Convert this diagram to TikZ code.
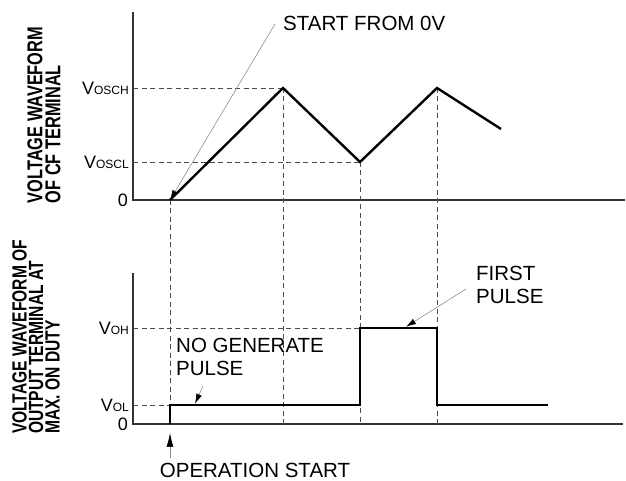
\documentclass[tikz,border=0pt]{standalone}
\usepackage{fontspec}
\setmainfont{Liberation Sans}
\newfontfamily\narrowfont[FakeStretch=0.76]{Liberation Sans}
\usetikzlibrary{arrows.meta}

\tikzset{
  wave/.style={line width=2.4pt, line join=miter},
  axis/.style={line width=1.1pt, black!80},
  guide/.style={black!70, line width=0.8pt, dash pattern=on 5pt off 3.5pt},
  leader/.style={black!45, line width=0.6pt, -{Latex[color=black, length=10pt, width=6pt]}},
  lbl/.style={font=\fontsize{20.5}{23}\selectfont, align=left, inner sep=0pt},
  vlbl/.style={font=\fontsize{18}{18}\selectfont, anchor=east, inner sep=0pt},
  ylbl/.style={rotate=90, align=left, inner sep=0pt},
}
\newcommand{\lvl}[1]{V{\fontsize{12}{12}\selectfont #1}}

\begin{document}
\begin{tikzpicture}[x=1pt, y=1pt]
    \useasboundingbox (0,0) rectangle (626,481);
    % Forme d'onde CF
    \begin{scope}[shift={(133,281)}]
        \coordinate (o1) at (0,0);
        \coordinate (s0) at (37,0);
        \coordinate (p1) at (150,112);
        \coordinate (t1) at (227,38);
        \coordinate (p2) at (304,112);
        \coordinate (e1) at (368,71);
        \draw[axis] (0,188) -- (o1) -- (492,0);
        \draw[guide] (0,112) -- (p1);
        \draw[guide] (0,38) -- (t1);
        \node[vlbl] (vosch) at (-4,112) {\lvl{OSCH}};
        \node[vlbl] (voscl) at (-4,38) {\lvl{OSCL}};
        \node[vlbl] (zero1) at (-5,0) {0};
    \end{scope}
    % Forme d'onde sortie
    \begin{scope}[shift={(133,57)}]
        \coordinate (o2) at (0,0);
        \coordinate (q0) at (37,0);
        \coordinate (q1) at (37,19);
        \coordinate (q2) at (227,19);
        \coordinate (q3) at (227,96);
        \coordinate (q4) at (304,96);
        \coordinate (q5) at (304,19);
        \coordinate (q6) at (415,19);
        \draw[axis] (0,151) -- (o2) -- (490,0);
        \draw[guide] (0,96) -- (q3);
        \draw[guide] (0,19) -- (q1);
        \node[vlbl] (voh) at (-4,96) {\lvl{OH}};
        \node[vlbl] (vol) at (-4,19) {\lvl{OL}};
        \node[vlbl] (zero2) at (-5,0) {0};
    \end{scope}
    % Reperes verticaux
    \draw[guide] (s0) -- (q0);
    \draw[guide] (p1) -- (p1 |- o2);
    \draw[guide] (t1) -- (t1 |- o2);
    \draw[guide] (p2) -- (p2 |- o2);
    \draw[wave] (s0) -- (p1) -- (t1) -- (p2) -- (e1);
    \draw[wave] (q0) -- (q1) -- (q2) -- (q3) -- (q4) -- (q5) -- (q6);
    % Legendes
    \node[ylbl, font=\narrowfont\bfseries\fontsize{21.5}{18}\selectfont] (cflbl) at (44,366) {VOLTAGE WAVEFORM\\OF CF TERMINAL};
    \node[ylbl, font=\narrowfont\bfseries\fontsize{20.5}{16.5}\selectfont] (outlbl) at (36,144) {VOLTAGE WAVEFORM OF\\OUTPUT TERMINAL AT\\MAX. ON DUTY};
    \node[lbl, anchor=west] (start) at (283,458) {START FROM 0V};
    \draw[leader] ([shift={(-8pt,-1pt)}]start.west) -- (s0);
    \node[lbl, anchor=west] (nogen) at (176,124) {NO GENERATE\\PULSE};
    \draw[leader] ([shift={(27pt,-10pt)}]nogen.south west) -- ([shift={(25pt,1.2pt)}]q1);
    \node[lbl, anchor=west] (first) at (476,196) {FIRST\\PULSE};
    \draw[leader] ([shift={(-10pt,-4pt)}]first.west) -- ([shift={(-31pt,1.2pt)}]q4);
    \node[lbl] (opstart) at (255,11) {OPERATION START};
    \draw[leader, -{Latex[color=black, length=14pt, width=7pt]}] ([yshift=-34pt]q0) -- ([yshift=-9pt]q0);
\end{tikzpicture}
\end{document}
